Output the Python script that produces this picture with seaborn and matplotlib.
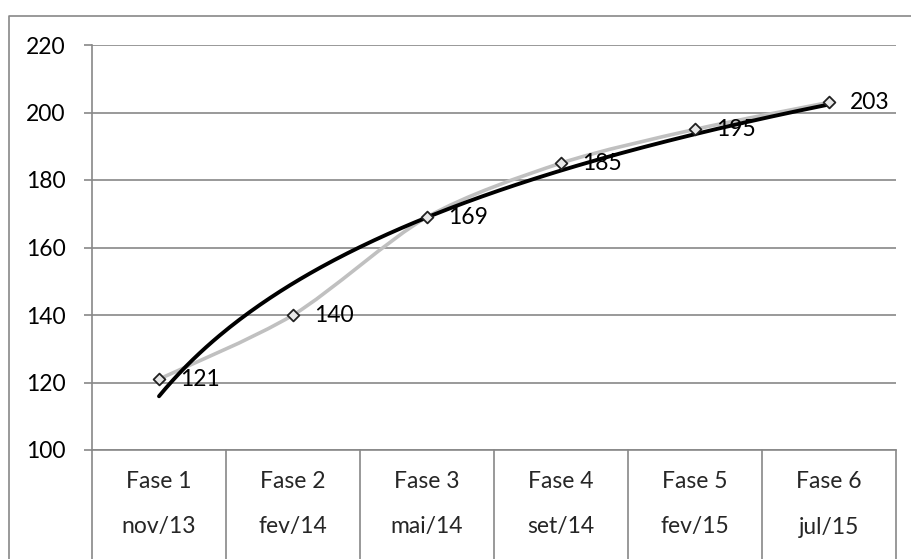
import numpy as np
import pandas as pd
import matplotlib
matplotlib.use("Agg")
import matplotlib.pyplot as plt
from matplotlib.path import Path
from matplotlib.patches import PathPatch
from matplotlib.lines import Line2D
import seaborn as sns

# Data
fases = ["Fase 1", "Fase 2", "Fase 3", "Fase 4", "Fase 5", "Fase 6"]
datas = ["nov/13", "fev/14", "mai/14", "set/14", "fev/15", "jul/15"]
valores = [121, 140, 169, 185, 195, 203]
y_ticks = [100, 120, 140, 160, 180, 200, 220]

sns.set_theme(style="white")
plt.rcParams["font.family"] = ["Lato", "DejaVu Sans"]
FS = 16.5

W, H = 911, 559
fig = plt.figure(figsize=(W / 100, H / 100), dpi=100)
ax = fig.add_axes([92 / W, (H - 450) / H, (896 - 92) / W, (450 - 45) / H])

grid_c = "#888888"
df = pd.DataFrame({"x": np.arange(len(valores)), "valor": valores})

# Smoothed series line (cubic Bezier through the points)
pts = np.column_stack([df["x"].to_numpy(float), df["valor"].to_numpy(float)])
ext = np.vstack([pts[0], pts, pts[-1]])
verts = [tuple(pts[0])]
codes = [Path.MOVETO]
for i in range(len(pts) - 1):
    p0, p1, p2, p3 = ext[i], ext[i + 1], ext[i + 2], ext[i + 3]
    c1 = p1 + (p2 - p0) / 7
    c2 = p2 - (p3 - p1) / 7
    verts += [tuple(c1), tuple(c2), tuple(p2)]
    codes += [Path.CURVE4] * 3
ax.add_patch(PathPatch(Path(verts, codes), facecolor="none", edgecolor="#c0c0c0",
                       lw=2.6, zorder=3, capstyle="round"))

# Logarithmic trend line
a, b = np.polyfit(np.log(df["x"] + 1), df["valor"], 1)
xt = np.linspace(0, len(valores) - 1, 200)
trend = pd.DataFrame({"x": xt, "y": a * np.log(xt + 1) + b})
sns.lineplot(data=trend, x="x", y="y", ax=ax, color="black", lw=2.8,
             zorder=4, solid_capstyle="round")

# Markers
sns.scatterplot(data=df, x="x", y="valor", ax=ax, marker="D", s=36,
                color="#e8e8e8", edgecolor="#222222", linewidth=1.3, zorder=5)

# Value labels
for xi, v in zip(df["x"], df["valor"]):
    ax.annotate(f"{v}", (xi, v), xytext=(15, 0), textcoords="offset points",
                ha="left", va="center", fontsize=FS, color="black", zorder=6)

ax.set_xlim(-0.5, len(valores) - 0.5)
ax.set_ylim(100, 220)
ax.set_yticks(y_ticks)
ax.set_yticklabels([str(t) for t in y_ticks], fontsize=FS, color="black")
ax.set_xticks([])
ax.set_xlabel("")
ax.set_ylabel("")
ax.yaxis.grid(True, color=grid_c, lw=1.2)
ax.set_axisbelow(True)
ax.tick_params(axis="y", length=6, width=1.2, color=grid_c, pad=13, left=True)
for side in ["top", "right"]:
    ax.spines[side].set_visible(False)
ax.spines["left"].set_color(grid_c)
ax.spines["left"].set_linewidth(1.2)
ax.spines["bottom"].set_color(grid_c)
ax.spines["bottom"].set_linewidth(1.2)

# Category table under the axis
trans = ax.get_xaxis_transform()
bottom_y = -(H - 450) / (450 - 45) - 0.05
for k in range(len(valores) + 1):
    ax.add_line(Line2D([k - 0.5, k - 0.5], [0, bottom_y], transform=trans,
                       color=grid_c, lw=1.2, clip_on=False))
row1 = -(482 - 450) / (450 - 45)
row2 = -(527 - 450) / (450 - 45)
for k, (f, d) in enumerate(zip(fases, datas)):
    ax.text(k, row1, f, transform=trans, ha="center", va="center", fontsize=FS)
    ax.text(k, row2, d, transform=trans, ha="center", va="center", fontsize=FS)

# Outer chart border
fig.add_artist(Line2D([9 / W, 9 / W, 1.01], [-0.01, (H - 16) / H, (H - 16) / H],
                      transform=fig.transFigure, color=grid_c, lw=1.2))

fig.savefig("out.png", dpi=100)
